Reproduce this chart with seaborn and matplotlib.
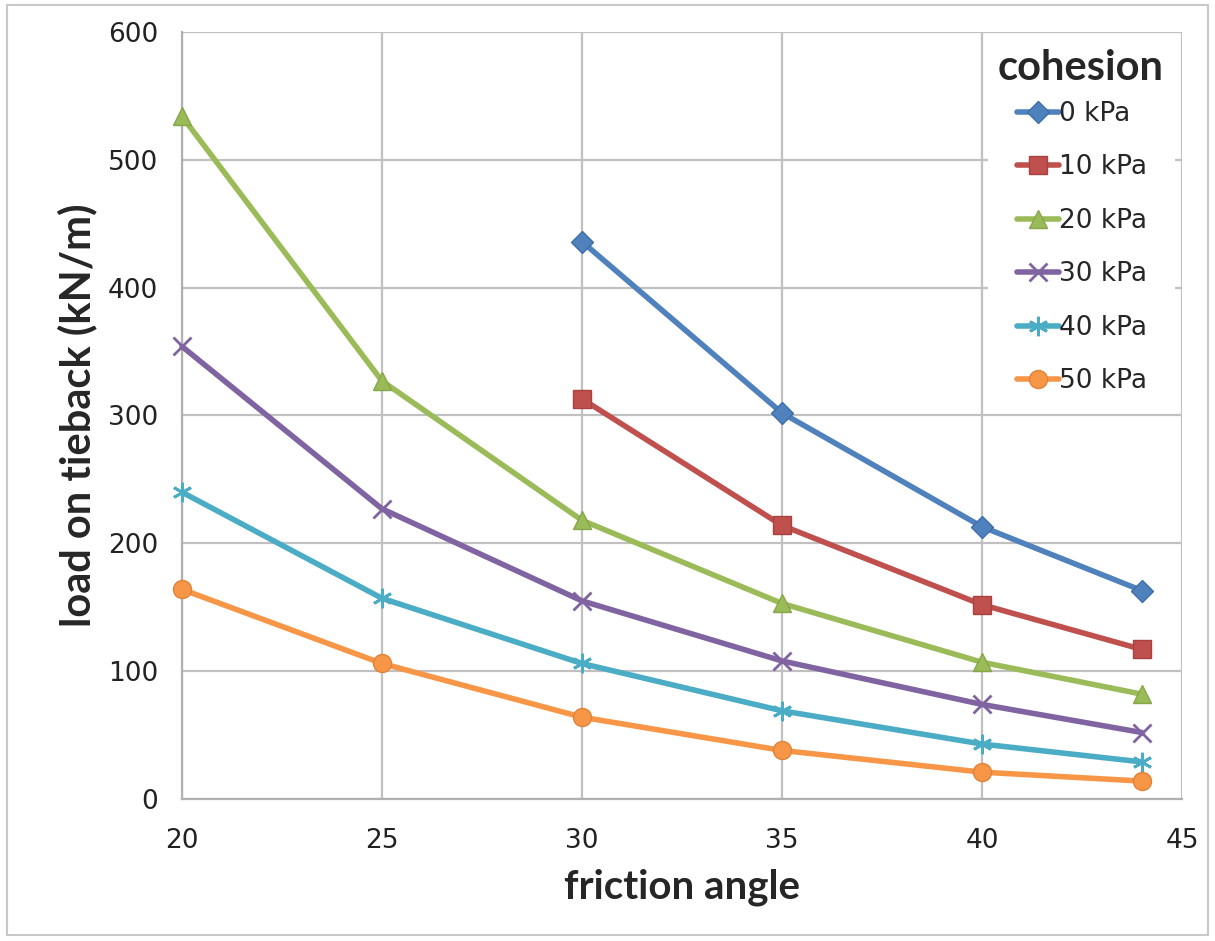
import matplotlib
matplotlib.use("Agg")
import matplotlib.pyplot as plt
import seaborn as sns
import pandas as pd
from matplotlib.patches import Rectangle

friction = [20, 25, 30, 35, 40, 44]
labels = ["0 kPa", "10 kPa", "20 kPa", "30 kPa", "40 kPa", "50 kPa"]
c0 = [None, None, 436, 302, 213, 163]
c10 = [None, None, 313, 214, 152, 117]
c20 = [534, 327, 218, 153, 107, 82]
c30 = [354, 227, 155, 108, 74, 52]
c40 = [240, 157, 106, 69, 43, 29]
c50 = [164, 106, 64, 38, 21, 14]
series = [c0, c10, c20, c30, c40, c50]

colors = ["#4F81BD", "#C0504D", "#9BBB59", "#8064A2", "#4BACC6", "#F79646"]
edges = ["#3F6FA8", "#A84240", "#86A64A", "#6E5490", "#3A97AF", "#E0823A"]
markers = ["D", "s", "^", "x", (6, 2, 0), "o"]
msizes = [11, 13, 13, 13, 14, 13]

rows = []
for lab, vals in zip(labels, series):
    for f, v in zip(friction, vals):
        if v is not None:
            rows.append({"friction": f, "load": v, "cohesion": lab})
df = pd.DataFrame(rows)

sns.set_style("white")
plt.rcParams["font.family"] = ["DejaVu Sans"]
BOLD = ["Lato", "DejaVu Sans"]

fig = plt.figure(figsize=(12.15, 9.41), dpi=100)
ax = fig.add_axes([0.1498, 0.1509, 0.8230, 0.8151])

for lab, col, ec, mk, ms in zip(labels, colors, edges, markers, msizes):
    sub = df[df["cohesion"] == lab]
    kw = dict(markeredgecolor=ec, markeredgewidth=1.0)
    if mk == "x" or isinstance(mk, tuple):
        kw = dict(markeredgecolor=col, markeredgewidth=2.0)
    sns.lineplot(data=sub, x="friction", y="load", ax=ax, color=col,
                 marker=mk, markersize=ms, linewidth=4.0, label=lab,
                 clip_on=False, zorder=3, **kw)

ax.set_xlim(20, 45)
ax.set_ylim(0, 600)
ax.set_xticks([20, 25, 30, 35, 40, 45])
ax.set_yticks([0, 100, 200, 300, 400, 500, 600])
ax.grid(True, color="#C0C0C0", linewidth=1.6)
ax.set_axisbelow(True)
for s in ["top", "right"]:
    ax.spines[s].set_visible(False)
for s in ["left", "bottom"]:
    ax.spines[s].set_color("#B0B0B0")
    ax.spines[s].set_linewidth(1.6)
ax.tick_params(axis="both", which="both", direction="out", length=8, width=1.6,
               color="#B0B0B0", labelsize=19, labelcolor="#222222", pad=13)
ax.tick_params(axis="y", pad=9)

ax.set_xlabel("friction angle", fontsize=29, fontweight="bold", family=BOLD, labelpad=10)
ax.set_ylabel("load on tieback (kN/m)", fontsize=30, fontweight="bold", family=BOLD, labelpad=8)

# white legend area covering the gridlines
ax.add_patch(Rectangle((0.806, 0.520), 0.187, 0.4696, transform=ax.transAxes,
                       facecolor="white", edgecolor="none", zorder=1.5))
ax.text(0.816, 0.953, "cohesion", transform=ax.transAxes, ha="left", va="center",
        fontsize=30, fontweight="bold", family=BOLD, zorder=4)

leg = ax.legend(loc="upper left", bbox_to_anchor=(0.835, 0.910),
                frameon=False, fontsize=19, handlelength=1.6, handletextpad=0.0,
                labelspacing=1.04, borderaxespad=0.0, borderpad=0.0)

fig.patches.append(Rectangle((0.006, 0.006), 0.988, 0.989, transform=fig.transFigure,
                             fill=False, edgecolor="#C8C8C8", linewidth=1.5))

fig.savefig("out.png", dpi=100)
